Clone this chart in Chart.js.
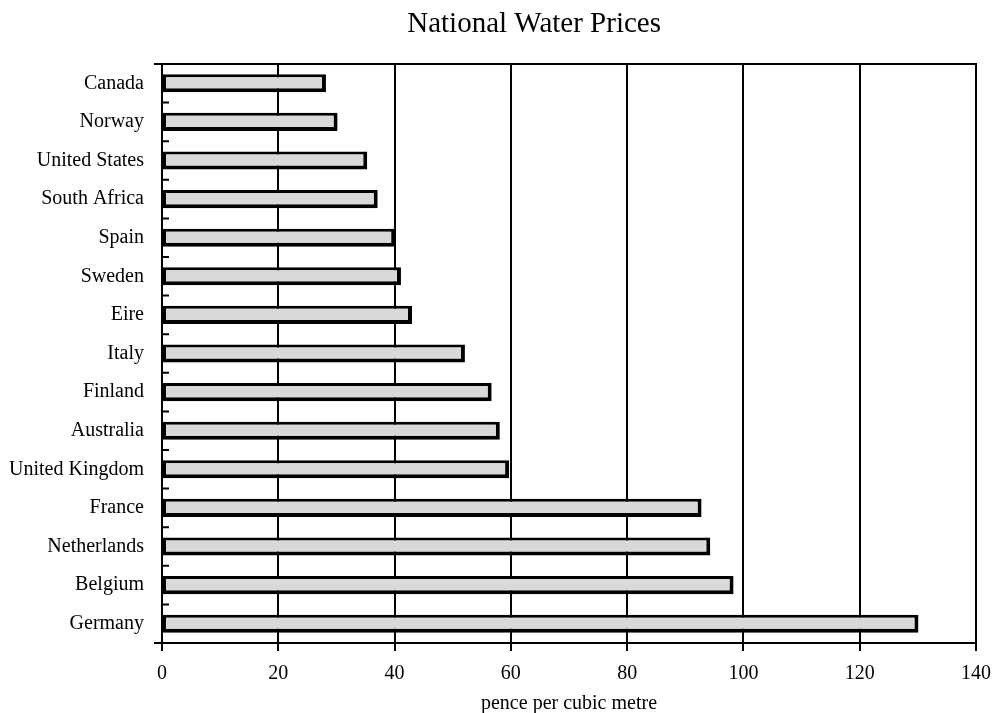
<!DOCTYPE html>
<html>
<head>
<meta charset="utf-8">
<title>National Water Prices</title>
<script src="https://cdn.jsdelivr.net/npm/chart.js@4/dist/chart.umd.min.js"></script>
<style>
  body { margin: 0; background: #fff; }
</style>
</head>
<body>
<canvas id="chart" width="992" height="713"></canvas>
<script>
// data (pence per cubic metre)
var countries = ["Canada", "Norway", "United States", "South Africa", "Spain", "Sweden", "Eire",
  "Italy", "Finland", "Australia", "United Kingdom", "France", "Netherlands", "Belgium", "Germany"];
var prices = [28.2, 30.2, 35.3, 37.1, 40.1, 41.1, 43.0, 52.1, 56.7, 58.1, 59.7, 92.8, 94.3, 98.3, 130.1];
var xTicks = [0, 20, 40, 60, 80, 100, 120, 140];
var chartTitle = "National Water Prices";
var xTitle = "pence per cubic metre";

var serif = "'Liberation Serif', 'DejaVu Serif', serif";

// title sits a bit left of the plot centre in the original, so draw it here
var titleText = {
  id: 'titleText',
  afterDraw: function (chart) {
    var c = chart.ctx, x = chart.scales.x;
    c.save();
    c.fillStyle = '#000';
    c.font = '29px ' + serif;
    c.textAlign = 'center';
    c.textBaseline = 'middle';
    c.fillText(chartTitle, x.getPixelForValue(64), 24);
    c.restore();
  }
};

// box round the plot + small inward ticks on the category axis
var frame = {
  id: 'frame',
  afterDraw: function (chart) {
    var c = chart.ctx, a = chart.chartArea, y = chart.scales.y;
    c.save();
    c.strokeStyle = '#000';
    c.lineWidth = 2;
    c.beginPath();
    c.moveTo(a.left - 8, a.top);
    c.lineTo(a.right, a.top);
    c.lineTo(a.right, a.bottom);
    c.moveTo(a.left - 8, a.bottom);
    c.lineTo(a.left, a.bottom);
    for (var i = 1; i < countries.length; i++) {
      var py = y.getPixelForValue(i - 0.5);
      c.moveTo(a.left, py);
      c.lineTo(a.left + 7, py);
    }
    c.stroke();
    c.restore();
  }
};

var ctx = document.getElementById("chart");

new Chart(ctx, {
  type: 'bar',
  data: {
    labels: countries,
    datasets: [{
      label: 'Price',
      data: prices,
      backgroundColor: '#d9d9d9',
      borderColor: '#000',
      borderWidth: { top: 3, left: 3, right: 4, bottom: 4 },
      borderSkipped: false,
      barPercentage: 0.47,
      categoryPercentage: 1
    }]
  },
  options: {
    indexAxis: 'y',
    responsive: false,
    animation: false,
    layout: { padding: { left: 0, right: 16, top: 64, bottom: 0 } },
    plugins: {
      legend: { display: false },
      tooltip: { enabled: false },
      title: { display: false }
    },
    scales: {
      x: {
        min: 0,
        max: 140,
        afterBuildTicks: function (scale) {
          scale.ticks = xTicks.map(function (v) { return { value: v }; });
        },
        afterFit: function (scale) {
          scale.height = 70;
          scale.paddingLeft = 0;
          scale.paddingRight = 0;
        },
        grid: {
          color: '#000',
          lineWidth: 2,
          tickLength: 8
        },
        border: { color: '#000', width: 2 },
        ticks: {
          color: '#000',
          padding: 11,
          font: { family: serif, size: 20 }
        },
        title: {
          display: true,
          text: xTitle,
          color: '#000',
          font: { family: serif, size: 20 },
          padding: { top: 7, bottom: -3 }
        }
      },
      y: {
        afterFit: function (scale) {
          scale.width = 162;
          scale.paddingTop = 0;
          scale.paddingBottom = 0;
        },
        grid: { display: false, drawTicks: false },
        border: { color: '#000', width: 2 },
        ticks: {
          color: '#000',
          padding: 18,
          font: { family: serif, size: 20 }
        }
      }
    }
  },
  plugins: [frame, titleText]
});
</script>
</body>
</html>
